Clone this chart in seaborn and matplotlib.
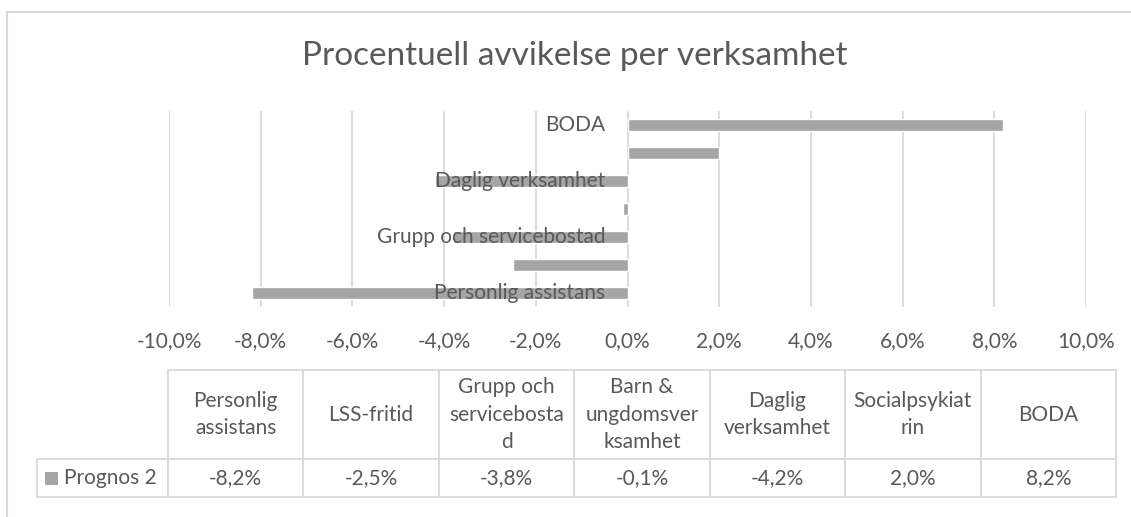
"""Procentuell avvikelse per verksamhet: liggande staplar med datatabell under."""

import matplotlib.pyplot as plt
import pandas as pd
import seaborn as sns
from matplotlib.patches import Rectangle
from matplotlib.table import Table

# === Data ===
categories = ["Personlig assistans", "LSS-fritid", "Grupp och servicebostad",
              "Barn & ungdomsverksamhet", "Daglig verksamhet", "Socialpsykiatrin", "BODA"]
# rubrikerna i tabellen bryts som i Excel
table_headers = ["Personlig\nassistans", "LSS-fritid", "Grupp och\nservicebosta\nd",
                 "Barn &\nungdomsver\nksamhet", "Daglig\nverksamhet", "Socialpsykiat\nrin", "BODA"]
values = [-8.2, -2.5, -3.8, -0.1, -4.2, 2.0, 8.2]
series_name = "Prognos 2"
x_ticks = [-10, -8, -6, -4, -2, 0, 2, 4, 6, 8, 10]
title = "Procentuell avvikelse per verksamhet"

BAR = "#A5A5A5"
GRID = "#D9D9D9"
TEXT = "#595959"
FS = 15


def pct(v: float) -> str:
    return f"{v:.1f}%".replace(".", ",")


sns.set_theme(style="whitegrid")
plt.rcParams["font.family"] = ["Lato", "DejaVu Sans"]

W, H = 1131, 517
fig = plt.figure(figsize=(W / 100, H / 100), dpi=100)
# plot area in pixels: x 169..1086, y 111..307
ax_l, ax_r, ax_t, ax_b = 169, 1086, 111, 307
ax = fig.add_axes([ax_l / W, 1 - ax_b / H, (ax_r - ax_l) / W, (ax_b - ax_t) / H])

df = pd.DataFrame({"verksamhet": categories, "avvikelse": values})
order = categories[::-1]
sns.barplot(data=df, x="avvikelse", y="verksamhet", order=order, orient="h",
            color=BAR, saturation=1, width=0.4, errorbar=None, ax=ax)

ax.set_xlim(-10, 10)
ax.set_xticks(x_ticks)
ax.set_xticklabels([pct(t) for t in x_ticks])
ax.set_yticks([])
ax.set_xlabel("")
ax.set_ylabel("")
ax.grid(axis="x", color=GRID, linewidth=1.3)
ax.grid(axis="y", visible=False)
for s in ax.spines.values():
    s.set_visible(False)
ax.tick_params(axis="x", length=0, pad=17, labelsize=FS, labelcolor=TEXT)

# Excel visar bara varannan kategorietikett, intill nollan och ovanpå staplarna
for i, name in enumerate(categories):
    if i % 2 == 0:
        ax.annotate(name, xy=(0, order.index(name)), xytext=(-16, 0),
                    textcoords="offset points", ha="right", va="center",
                    fontsize=FS, color=TEXT, zorder=5)

fig.text(575 / W, 1 - 56 / H, title, ha="center", va="center", fontsize=24, color=TEXT)

# === Datatabell ===
# kolumn 0 = serienamn, kolumn 1..7 = verksamheter
ax_w, ax_h = ax_r - ax_l, ax_b - ax_t
tab_l, tab_r, tab_t, tab_m, tab_b = 37, 1116, 370, 459, 497
tb = Table(ax, bbox=[(tab_l - ax_l) / ax_w, -(tab_b - ax_b) / ax_h,
                     (tab_r - tab_l) / ax_w, (tab_b - tab_t) / ax_h])
label_w = 168 - tab_l
col_w = (tab_r - 168) / len(categories)
for j, head in enumerate(table_headers, start=1):
    c = tb.add_cell(0, j, width=col_w, height=tab_m - tab_t, text=head, loc="center")
    c.get_text().set_linespacing(1.45)
for j, v in enumerate(values, start=1):
    tb.add_cell(1, j, width=col_w, height=tab_b - tab_m, text=pct(v), loc="center")
lab = tb.add_cell(1, 0, width=label_w, height=tab_b - tab_m, text=series_name, loc="left")
lab.PAD = 27 / label_w
tb.auto_set_font_size(False)
tb.set_fontsize(FS)
for cell in tb.get_celld().values():
    cell.set_edgecolor(GRID)
    cell.set_linewidth(1.3)
    cell.get_text().set_color(TEXT)
ax.add_table(tb)

# liten legendruta framför serienamnet
row_mid = -((tab_m + tab_b) / 2 - ax_b) / ax_h
ax.add_patch(Rectangle(((45 - ax_l) / ax_w, row_mid - 6.5 / ax_h), 13 / ax_w, 13 / ax_h,
                       transform=ax.transAxes, facecolor=BAR, edgecolor="none",
                       clip_on=False))

# diagramområdets ram
fig.add_artist(Rectangle((7 / W, -0.1), 1.2, 1.1 - 12 / H, transform=fig.transFigure,
                         fill=False, edgecolor=GRID, linewidth=1.5))

fig.savefig("out.png", dpi=100)
